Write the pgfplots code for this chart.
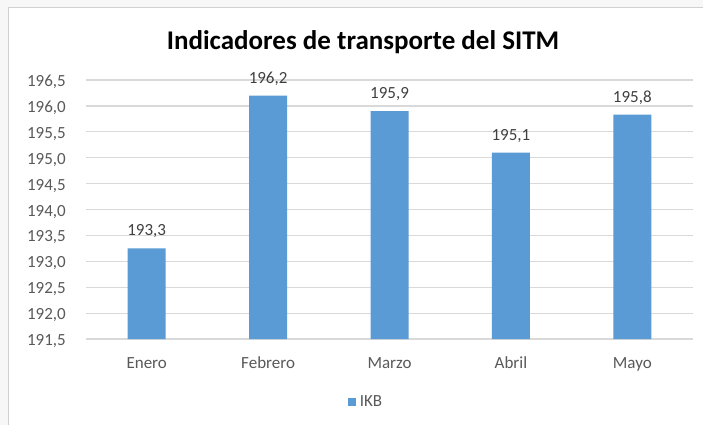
\documentclass[border=0pt]{standalone}
\usepackage{pgfplots}
\pgfplotsset{compat=1.18}
\usepackage{fontspec}
\setmainfont{Carlito}
\definecolor{barblue}{HTML}{5B9BD5}
\definecolor{gridgray}{HTML}{D9D9D9}
\definecolor{ticktext}{HTML}{595959}
\definecolor{labeltext}{HTML}{404040}
\begin{document}
\begin{tikzpicture}[x=1bp,y=1bp]
\path[use as bounding box] (0,0) rectangle (703,425);
\fill[black!3] (0,0) rectangle (703,425);
\fill[white] (8.5,0) rectangle (703,417.5);
\draw[black!18, line width=1.2bp] (8.5,0) -- (8.5,417.5) -- (703,417.5);
\node[anchor=base, font=\fontsize{27bp}{32bp}\selectfont\bfseries, text=black] at (363,376) {Indicadores de transporte del SITM};
\begin{axis}[
  at={(86bp,86bp)}, anchor=south west,
  scale only axis, width=607bp, height=259bp,
  ybar, bar width=38bp,
  xmin=-0.5, xmax=4.5, ymin=191.5, ymax=196.5,
  xtick=data, xticklabels={Enero,Febrero,Marzo,Abril,Mayo},
  ytick={191.5,192,...,196.5},
  major tick length=0pt,
  axis x line*=bottom, axis y line*=left,
  x axis line style={draw=gridgray, line width=1.2bp},
  y axis line style={draw=none},
  ymajorgrids, major grid style={draw=gridgray, line width=1.2bp},
  /pgf/number format/assume math mode=true,
  yticklabel={\pgfmathprintnumber[use comma,fixed,fixed zerofill,precision=1]{\tick}},
  yticklabel style={anchor=base east, inner sep=0pt, xshift=-20bp, yshift=-6.5bp, text=ticktext, font=\fontsize{17bp}{20bp}\selectfont},
  xticklabel style={anchor=base, inner sep=0pt, yshift=-29bp, text=ticktext, font=\fontsize{17bp}{20bp}\selectfont},
  nodes near coords={\pgfmathprintnumber[use comma,fixed,fixed zerofill,precision=1]{\pgfplotspointmeta}},
  nodes near coords style={anchor=base, inner sep=0pt, yshift=12.5bp, text=labeltext, font=\fontsize{17bp}{20bp}\selectfont, /pgf/number format/assume math mode=true},
  legend style={at={(0.463,-0.243)}, anchor=center, draw=none, fill=none, font=\fontsize{17bp}{20bp}\selectfont, text=ticktext, legend columns=1, nodes={inner xsep=4bp}},
  legend image code/.code={\fill[barblue] (0bp,-4bp) rectangle (8bp,4bp);},
  clip=false,
]
\addplot[fill=barblue, draw=none] coordinates {(0,193.25) (1,196.2) (2,195.9) (3,195.1) (4,195.83)};
\addlegendentry{IKB}
\end{axis}
\end{tikzpicture}
\end{document}
